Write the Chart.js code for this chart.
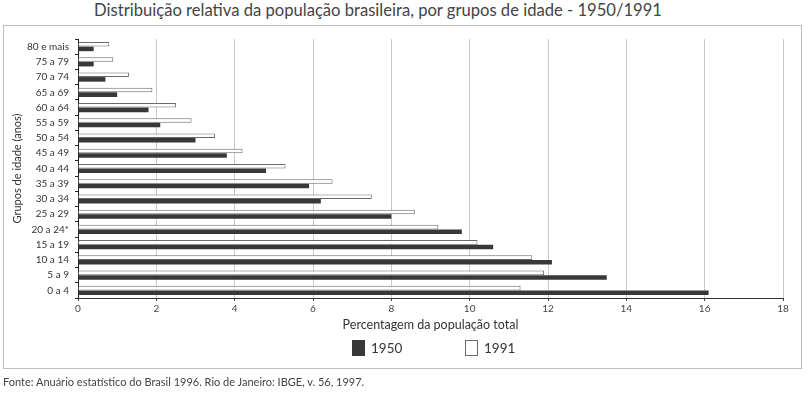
<!DOCTYPE html>
<html>
<head>
<meta charset="utf-8">
<script src="https://cdn.jsdelivr.net/npm/chart.js@4/dist/chart.umd.min.js"></script>
<style>
  html, body { margin: 0; padding: 0; background: #fff; }
  body { width: 807px; height: 393px; position: relative; overflow: hidden; font-family: Lato, 'Open Sans', sans-serif; }
  #title { position: absolute; left: 93px; top: 0px; width: 570px; text-align: center; font-size: 16.6px; color: #444; white-space: nowrap; line-height: 20px; }
  #frame { position: absolute; left: 3px; top: 25px; width: 797px; height: 342px; border: 1px solid #bdbdbd; }
  #chart-wrap { position: absolute; left: 0; top: 0; width: 807px; height: 393px; }
  #legend { position: absolute; top: 340px; left: 0; width: 807px; height: 16px; }
  .leg-item { position: absolute; top: 0; height: 16px; display: flex; align-items: center; font-size: 13.5px; color: #333; }
  .leg-box { width: 13px; height: 16px; margin-right: 6px; box-sizing: border-box; }
  #source { position: absolute; left: 3px; top: 375px; font-size: 11px; color: #444; white-space: nowrap; }
</style>
</head>
<body>
<div id="frame"></div>
<div id="title">Distribuição relativa da população brasileira, por grupos de idade - 1950/1991</div>
<div id="chart-wrap"><canvas id="chart" width="807" height="393"></canvas></div>
<div id="legend"></div>
<div id="source">Fonte: Anuário estatístico do Brasil 1996. Rio de Janeiro: IBGE, v. 56, 1997.</div>
<script>
// Age groups, bottom to top
const ageGroups = ['0 a 4', '5 a 9', '10 a 14', '15 a 19', '20 a 24*', '25 a 29', '30 a 34', '35 a 39',
    '40 a 44', '45 a 49', '50 a 54', '55 a 59', '60 a 64', '65 a 69', '70 a 74', '75 a 79', '80 e mais'];

// Percentage of total population
const pop1950 = [16.1, 13.5, 12.1, 10.6, 9.8, 8.0, 6.2, 5.9, 4.8, 3.8, 3.0, 2.1, 1.8, 1.0, 0.7, 0.4, 0.4];
const pop1991 = [11.3, 11.9, 11.6, 10.2, 9.2, 8.6, 7.5, 6.5, 5.3, 4.2, 3.5, 2.9, 2.5, 1.9, 1.3, 0.9, 0.8];

const seriesNames = ['1950', '1991'];
const xTicks = [0, 2, 4, 6, 8, 10, 12, 14, 16, 18];

const fontFamily = 'Lato, "Open Sans", sans-serif';

const ctx = document.getElementById('chart').getContext('2d');
const chart = new Chart(ctx, {
    type: 'bar',
    data: {
        labels: ageGroups,
        datasets: [
            {
                // drawn first so it sits above the 1950 bar in each group
                label: seriesNames[1],
                data: pop1991,
                backgroundColor: '#ffffff',
                borderColor: '#6a6a6a',
                borderWidth: 1,
                legendOrder: 1
            },
            {
                label: seriesNames[0],
                data: pop1950,
                backgroundColor: '#383838',
                borderColor: '#383838',
                borderWidth: 0,
                legendOrder: 0
            }
        ]
    },
    options: {
        indexAxis: 'y',
        responsive: false,
        animation: false,
        categoryPercentage: 0.6,
        barPercentage: 1.0,
        layout: { padding: { top: 39, left: 0, right: 24, bottom: 55 } },
        scales: {
            x: {
                min: 0,
                max: 18,
                afterBuildTicks: s => { s.ticks = xTicks.map(v => ({ value: v })); },
                afterFit: s => { s.height = 40; },
                grid: { color: '#c9c9c9', tickColor: '#444', tickLength: 3 },
                border: { color: '#333' },
                ticks: { color: '#444', padding: 2, font: { family: fontFamily, size: 10 } },
                title: {
                    display: true,
                    text: 'Percentagem da população total',
                    color: '#333',
                    padding: { top: 0, bottom: 6 },
                    font: { family: fontFamily, size: 12.5 }
                }
            },
            y: {
                reverse: true,
                afterFit: s => { s.width = 78; },
                grid: { drawOnChartArea: false, tickColor: '#222', tickLength: 3 },
                border: { color: '#222' },
                ticks: { color: '#333', padding: 6, font: { family: fontFamily, size: 10 } },
                title: {
                    display: true,
                    text: 'Grupos de idade (anos)',
                    color: '#333',
                    padding: { top: 11, bottom: 0 },
                    font: { family: fontFamily, size: 11 }
                }
            }
        },
        plugins: {
            legend: { display: false },
            tooltip: { enabled: false }
        }
    }
});

// HTML legend built from the chart's datasets (1950 first)
const legendEl = document.getElementById('legend');
const legendLeft = [352, 465];
chart.data.datasets
    .slice()
    .sort((a, b) => a.legendOrder - b.legendOrder)
    .forEach((ds, i) => {
        const item = document.createElement('div');
        item.className = 'leg-item';
        item.style.left = legendLeft[i] + 'px';
        const box = document.createElement('span');
        box.className = 'leg-box';
        box.style.background = ds.backgroundColor;
        box.style.border = '1px solid ' + (ds.borderWidth ? ds.borderColor : ds.backgroundColor);
        const txt = document.createElement('span');
        txt.textContent = ds.label;
        item.appendChild(box);
        item.appendChild(txt);
        legendEl.appendChild(item);
    });
</script>
</body>
</html>
